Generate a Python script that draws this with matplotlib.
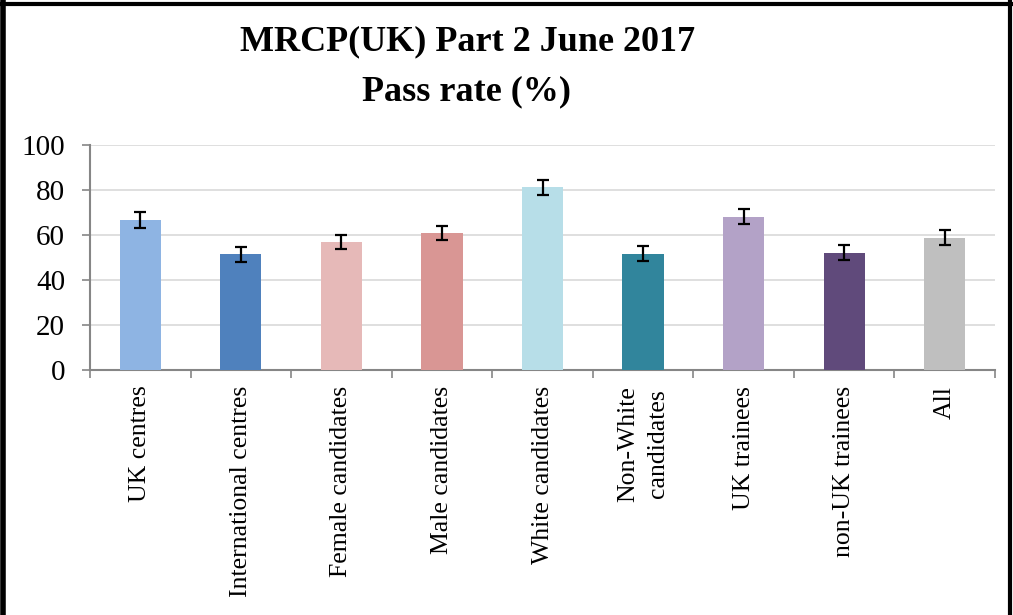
import matplotlib.pyplot as plt
from matplotlib.lines import Line2D

# 数据
categories = ['UK centres', 'International centres', 'Female candidates',
              'Male candidates', 'White candidates', 'Non-White\ncandidates',
              'UK trainees', 'non-UK trainees', 'All']
pass_rate = [66.7, 51.6, 57.0, 61.0, 81.3, 51.6, 68.2, 52.1, 58.8]
err_up = [3.4, 3.2, 3.2, 3.1, 3.3, 3.3, 3.4, 3.4, 3.4]
err_down = [3.4, 3.4, 3.3, 3.3, 3.5, 3.3, 3.3, 3.4, 3.4]
colors = ['#8EB4E3', '#4F81BD', '#E6B9B8', '#D99694', '#B7DEE8',
          '#31859C', '#B3A2C7', '#604A7B', '#BFBFBF']
yticks = [0, 20, 40, 60, 80, 100]

serif = ['Liberation Serif', 'DejaVu Serif']

fig = plt.figure(figsize=(10.13, 6.15), dpi=100)
ax = fig.add_axes([90 / 1013, 1 - 370 / 615, 905 / 1013, 225 / 615])

x = range(len(categories))
ax.bar(x, pass_rate, width=0.41, color=colors, zorder=3)
ax.errorbar(x, pass_rate, yerr=[err_down, err_up], fmt='none',
            ecolor='black', elinewidth=1.6, capsize=4.5, capthick=1.6, zorder=4)

ax.set_xlim(-0.5, len(categories) - 0.5)
ax.set_ylim(0, 100)
ax.set_yticks(yticks)
ax.set_yticklabels([str(v) for v in yticks], family=serif, fontsize=21)
ax.yaxis.grid(True, color='#D9D9D9', linewidth=1.2, zorder=0)

ax.set_xticks([i + 0.5 for i in range(-1, len(categories))])
ax.set_xticklabels([])
ax.tick_params(axis='x', length=6, color='#868686', width=1.2)
ax.tick_params(axis='y', length=6, color='#868686', width=1.2, pad=12)
for i, lab in enumerate(categories):
    ax.text(i, -7, lab, rotation=90, ha='center', va='top',
            family=serif, fontsize=18.5, multialignment='center', linespacing=1.5)

for side in ['top', 'right']:
    ax.spines[side].set_visible(False)
for side in ['left', 'bottom']:
    ax.spines[side].set_color('#868686')
    ax.spines[side].set_linewidth(1.5)

fig.text(468 / 1013, 1 - 50 / 615, 'MRCP(UK) Part 2 June 2017', ha='center', va='baseline',
         family=serif, fontsize=26, fontweight='bold')
fig.text(466 / 1013, 1 - 100 / 615, 'Pass rate (%)', ha='center', va='baseline',
         family=serif, fontsize=26, fontweight='bold')

# 外框
fig.add_artist(Line2D([0.003, 0.003], [0, 1], transform=fig.transFigure, color='black', lw=4))
fig.add_artist(Line2D([0, 1], [1 - 4 / 615, 1 - 4 / 615], transform=fig.transFigure, color='black', lw=3))
fig.add_artist(Line2D([0.997, 0.997], [0, 1], transform=fig.transFigure, color='black', lw=3))

plt.savefig('out.png', dpi=100)
